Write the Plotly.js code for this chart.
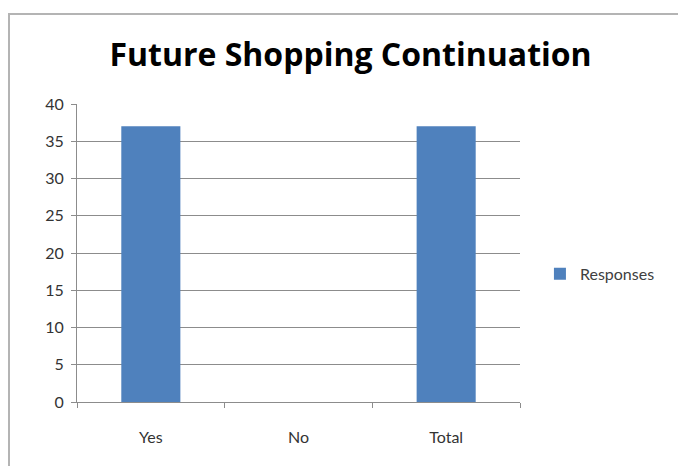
<!DOCTYPE html>
<html>
<head>
<meta charset="utf-8">
<script src="https://cdn.plot.ly/plotly-3.0.1.min.js"></script>
<style>
  html, body { margin: 0; padding: 0; background: #fff; }
  #wrap { position: relative; width: 678px; height: 466px; overflow: hidden; }
  #chart { position: absolute; left: 0; top: 0; width: 678px; height: 466px; }
  #frame { position: absolute; left: 8px; top: 13px; width: 690px; height: 480px;
           border: 2px solid #b4b4b4; pointer-events: none; box-sizing: border-box; }
</style>
</head>
<body>
<div id="wrap">
  <div id="chart"></div>
  <div id="frame"></div>
</div>
<script>
const categories = ["Yes", "No", "Total"];
const responses = [37, 0, 37];
const seriesName = "Responses";
const yTicks = [0, 5, 10, 15, 20, 25, 30, 35, 40];

const font = "Lato, 'Open Sans', sans-serif";

const trace = {
  type: "bar",
  x: categories,
  y: responses,
  name: seriesName,
  marker: { color: "#4F81BD", line: { width: 0 } },
  showlegend: true,
  hoverinfo: "x+y"
};

const layout = {
  width: 678,
  height: 466,
  margin: { l: 77, r: 158, t: 104, b: 64, pad: 0 },
  paper_bgcolor: "rgba(0,0,0,0)",
  plot_bgcolor: "#ffffff",
  bargap: 0.6,
  font: { family: font, color: "#404040", size: 15 },
  title: {
    text: "<b>Future Shopping Continuation</b>",
    font: { family: "'Open Sans', sans-serif", size: 32, color: "#000000" },
    x: 0.517, xanchor: "center",
    y: 0.882, yanchor: "middle"
  },
  xaxis: {
    type: "category",
    showline: true,
    linecolor: "#8c8c8c",
    linewidth: 1,
    ticks: "outside",
    tickson: "boundaries",
    ticklen: 5,
    tickcolor: "#8c8c8c",
    showgrid: false,
    tickfont: { size: 16, color: "#333333" },
    ticklabelstandoff: 21,
    fixedrange: true
  },
  yaxis: {
    range: [0, 40],
    tickvals: yTicks,
    ticktext: yTicks.map(String),
    showline: true,
    linecolor: "#8c8c8c",
    linewidth: 1,
    ticks: "outside",
    ticklen: 5,
    tickcolor: "#8c8c8c",
    showgrid: true,
    gridcolor: "#8c8c8c",
    gridwidth: 1,
    zeroline: false,
    tickfont: { size: 16, color: "#333333" },
    ticklabelstandoff: 4,
    fixedrange: true
  },
  legend: {
    x: 1.045, xanchor: "left",
    y: 0.43, yanchor: "middle",
    font: { size: 16, color: "#404040" },
    bgcolor: "rgba(0,0,0,0)",
    itemwidth: 30
  }
};

Plotly.newPlot("chart", [trace], layout, { displayModeBar: false, staticPlot: true });
</script>
</body>
</html>
